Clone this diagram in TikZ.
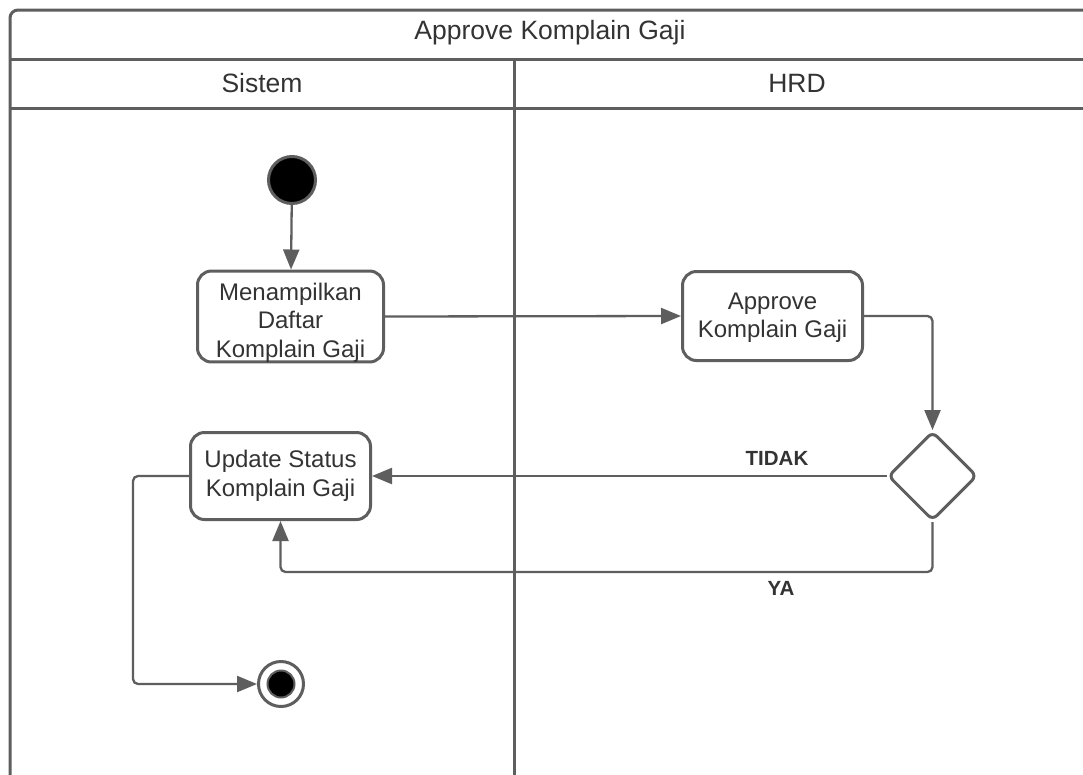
\documentclass[tikz,border=0pt]{standalone}
\usepackage{fontspec}
\setmainfont{Liberation Sans}
\usetikzlibrary{arrows.meta,shapes.geometric}
\definecolor{linegray}{HTML}{5E5E5E}
\definecolor{textgray}{HTML}{333333}
\tikzset{
  lane/.style={draw=linegray, line width=3pt},
  action/.style={draw=linegray, line width=3pt, rounded corners=14pt, fill=white,
    align=center, text=textgray, font=\fontsize{24}{28.5}\selectfont, inner sep=0pt},
  flow/.style={draw=linegray, line width=2.3pt, rounded corners=5pt,
    -{Triangle[length=20pt,width=16pt]}},
  guard/.style={text=textgray, font=\bfseries\fontsize{20.5}{22}\selectfont},
  header/.style={text=textgray, font=\fontsize{26.5}{30}\selectfont},
}
\begin{document}
\begin{tikzpicture}[x=1pt,y=-1pt]
\useasboundingbox (0,0) rectangle (1083,774);
\fill[white] (0,0) rectangle (1083,774);

% swimlane frame
\draw[lane, rounded corners=8pt] (10,780) -- (10,10) -- (1095,10);
\draw[lane] (10,59) -- (1095,59);
\draw[lane] (10,108) -- (1095,108);
\draw[lane] (514,59) -- (514,780);
\node[header] (title) at (550,33) {Approve Komplain Gaji};
\node[header] (sistem) at (262,83) {Sistem};
\node[header] (hrd) at (797,83) {HRD};

% initial and final states
\node[circle, draw=linegray, line width=3pt, fill=black, minimum size=47pt, inner sep=0pt] (start) at (292,180) {};
\node[circle, draw=linegray, line width=3pt, fill=white, minimum size=45pt, inner sep=0pt] (end) at (281,684) {};
\node[circle, draw=linegray, line width=2pt, fill=black, minimum size=27pt, inner sep=0pt] (endcore) at (end.center) {};

% actions (the strut on the first line sits the three-line text a little low)
\node[action, minimum width=186pt, minimum height=90pt] (tampil) at (290.5,316.5)
  {\rule{0pt}{29pt}Menampilkan\\Daftar\\Komplain Gaji};
\node[action, minimum width=180pt, minimum height=89pt] (approve) at (772.5,316)
  {\rule{0pt}{20pt}Approve\\Komplain Gaji};
\node[action, minimum width=180pt, minimum height=87pt] (update) at (280.5,476)
  {Update Status\\Komplain Gaji};

% decision
\node[diamond, aspect=1, draw=linegray, line width=3pt, fill=white, rounded corners=6pt,
  minimum width=89pt, minimum height=89pt, inner sep=0pt] (dec) at (932.5,476) {};

% flows
\draw[flow] (start) -- (tampil);
\draw[flow] (tampil.east) -- (approve.west);
\draw[flow] (approve.east) -| (dec.north);
\draw[flow] (dec.west) -- (update.east);
\draw[flow] (dec.south) |- ([yshift=-51pt]update.south) -- (update.south);
\draw[flow] (update.west) -- ++(-56,0) |- (end.west);

% guards
\node[guard] (tidak) at (777,458) {TIDAK};
\node[guard] (ya) at (781,588) {YA};
\end{tikzpicture}
\end{document}
